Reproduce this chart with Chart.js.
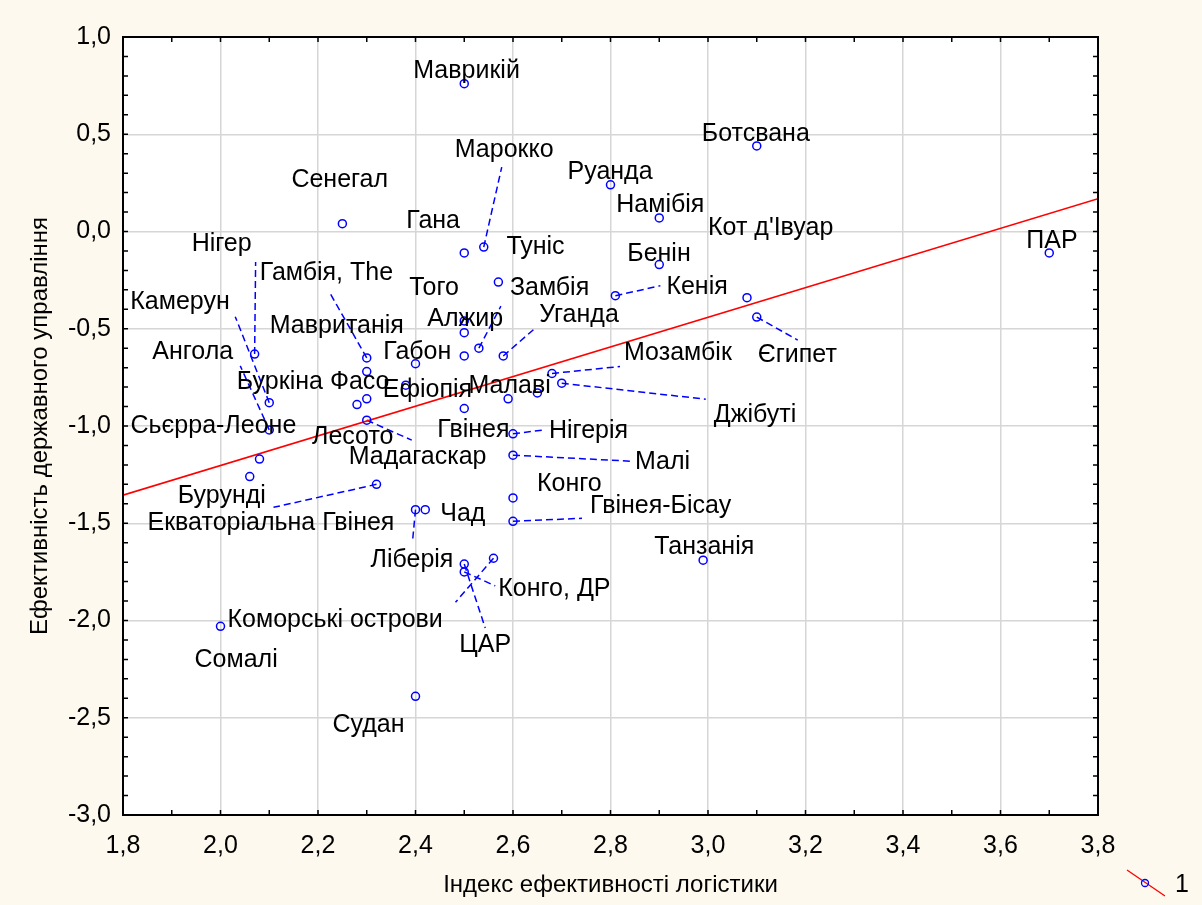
<!DOCTYPE html>
<html>
<head>
<meta charset="utf-8">
<script src="https://cdn.jsdelivr.net/npm/chart.js@4.4.1/dist/chart.umd.min.js"></script>
<style>
body{margin:0;background:#fdf9ee}
canvas{display:block}
</style>
</head>
<body>
<canvas id="chart" width="1202" height="905"></canvas>
<script>
// countries, logistics performance index (x), government effectiveness (y)
const countries = ['Маврикій','Ботсвана','Руанда','Намібія','Сенегал','Гана','Марокко','Туніс','Бенін','Кенія',
  "Кот д'Івуар",'Єгипет','ПАР','Того','Алжир','Замбія','Габон','Уганда','','Ефіопія',
  'Мозамбік','Джібуті','Малаві','','Гвінея','Нігер','Камерун','Ангола','Гамбія, The','Мавританія',
  'Буркіна Фасо','Лесото','Мадагаскар','Сьєрра-Леоне','Бурунді','Екваторіальна Гвінея','Ліберія','Чад','Нігерія','Малі',
  'Конго','Гвінея-Бісау','Танзанія','ЦАР','Конго, ДР','Коморські острови','Сомалі','Судан']
const logistics = [2.50,3.10,2.80,2.90,2.25,2.50,2.54,2.57,2.90,2.81,
  3.08,3.10,3.70,2.50,2.50,2.53,2.50,2.58,2.40,2.38,
  2.68,2.70,2.65,2.59,2.50,2.07,2.10,2.10,2.30,2.30,
  2.30,2.28,2.30,2.08,2.06,2.32,2.40,2.42,2.60,2.60,
  2.60,2.60,2.99,2.50,2.50,2.56,2.00,2.40]
const governance = [0.76,0.44,0.24,0.07,0.04,-0.11,-0.08,-0.26,-0.17,-0.33,
  -0.34,-0.44,-0.11,-0.46,-0.52,-0.60,-0.64,-0.64,-0.68,-0.79,
  -0.73,-0.78,-0.83,-0.86,-0.91,-0.63,-0.88,-1.02,-0.65,-0.72,
  -0.86,-0.89,-0.97,-1.17,-1.26,-1.30,-1.43,-1.43,-1.04,-1.15,
  -1.37,-1.49,-1.69,-1.71,-1.75,-1.68,-2.03,-2.39]

// fitted line y = a + b*x
const fitA = -2.727
const fitB = 0.762
const xRange = [1.8, 3.8]

// label placement relative to the point, in pixels [dx, dy of text baseline-left]
const labelOffsets = [[-51,-6],[-55,-5],[-43,-6],[-43,-6],[-51,-37],[-58,-25],[-29,-90],[8,-28],[-32,-4],[51,-2],
  [-39,-63],[1,45],[-23,-5],[-55,-26],[-37,-7],[31,-53],[-81,3],[36,-34],null,[-23,12],
  [72,-13],[152,39],[-69,0],null,[-27,29],[-63,-103],[-139,-94],[-117,-71],[-107,-78],[-97,-39],
  [-130,-10],[-45,39],[-18,44],[-129,-26],[-72,26],[-229,46],[-45,57],[15,11],[36,4],[122,14],
  [24,-7],[77,-8],[-49,-6],[-5,88],[34,24],[-266,69],[-26,41],[-83,36]]
// dashed leader end relative to the point
const leaders = {6:[18,-80],9:[45,-10],11:[41,23],15:[22,-42],17:[31,-27],20:[68,-7],21:[144,16],
  25:[1,-92],26:[-34,-86],27:[-29,-64],28:[-38,-67],32:[45,20],35:[-103,23],36:[-3,32],
  38:[32,-4],39:[117,6],41:[69,-3],43:[21,64],44:[31,14],45:[-38,44]}

const FONT = '"Liberation Sans", Arial, sans-serif'
const points = logistics.map((x,i) => ({x:x, y:governance[i]}))
const fitLine = xRange.map(x => ({x:x, y:fitA + fitB*x}))
const fmt = v => v.toFixed(1).replace('.', ',')

const background = {
  id:'background',
  beforeDraw(chart){
    const {ctx, chartArea:a} = chart
    ctx.save()
    ctx.fillStyle = '#fdf9ee'
    ctx.fillRect(0,0,chart.width,chart.height)
    ctx.fillStyle = '#ffffff'
    ctx.fillRect(a.left,a.top,a.right-a.left,a.bottom-a.top)
    ctx.restore()
  }
}

const labels = {
  id:'labels',
  beforeDatasetsDraw(chart){
    const ctx = chart.ctx
    const meta = chart.getDatasetMeta(0)
    ctx.save()
    ctx.strokeStyle = '#0000ff'
    ctx.lineWidth = 1.5
    ctx.setLineDash([7,4])
    for (const k in leaders){
      const p = meta.data[k]
      ctx.beginPath()
      ctx.moveTo(p.x, p.y)
      ctx.lineTo(p.x + leaders[k][0], p.y + leaders[k][1])
      ctx.stroke()
    }
    ctx.restore()
  },
  afterDatasetsDraw(chart){
    const ctx = chart.ctx
    const meta = chart.getDatasetMeta(0)
    ctx.save()
    ctx.font = '25px ' + FONT
    ctx.fillStyle = '#000'
    ctx.textAlign = 'left'
    ctx.textBaseline = 'alphabetic'
    countries.forEach((name,i) => {
      const off = labelOffsets[i]
      if (!off || !name) return
      const p = meta.data[i]
      ctx.fillText(name, p.x + off[0], p.y + off[1])
    })
    ctx.restore()
  }
}

const frame = {
  id:'frame',
  afterDraw(chart){
    const {ctx, chartArea:a, scales} = chart
    ctx.save()
    ctx.strokeStyle = '#000'
    ctx.lineWidth = 1.5
    ctx.beginPath()
    scales.x.ticks.forEach(t => {
      const px = scales.x.getPixelForValue(t.value)
      ctx.moveTo(px, a.bottom); ctx.lineTo(px, a.bottom-5)
      ctx.moveTo(px, a.top); ctx.lineTo(px, a.top+5)
    })
    scales.y.ticks.forEach(t => {
      const py = scales.y.getPixelForValue(t.value)
      ctx.moveTo(a.left, py); ctx.lineTo(a.left+5, py)
      ctx.moveTo(a.right, py); ctx.lineTo(a.right-5, py)
    })
    ctx.stroke()
    ctx.lineWidth = 2
    ctx.strokeRect(a.left, a.top, a.right-a.left, a.bottom-a.top)
    // legend key
    ctx.strokeStyle = '#ff0000'
    ctx.lineWidth = 1.3
    ctx.beginPath()
    ctx.moveTo(a.right+29, a.bottom+55); ctx.lineTo(a.right+67, a.bottom+81)
    ctx.stroke()
    ctx.strokeStyle = '#0000ff'
    ctx.beginPath()
    ctx.arc(a.right+47, a.bottom+68, 3.5, 0, Math.PI*2)
    ctx.stroke()
    ctx.fillStyle = '#000'
    ctx.font = '25px ' + FONT
    ctx.fillText('1', a.right+77, a.bottom+77)
    ctx.restore()
  }
}

new Chart(document.getElementById('chart'), {
  data:{
    datasets:[
      {
        type:'scatter',
        label:'1',
        data:points,
        pointStyle:'circle',
        pointRadius:4,
        borderWidth:1.5,
        borderColor:'#0000ff',
        backgroundColor:'rgba(0,0,0,0)'
      },
      {
        type:'line',
        data:fitLine,
        borderColor:'#ff0000',
        borderWidth:1.6,
        pointRadius:0
      }
    ]
  },
  options:{
    responsive:false,
    animation:false,
    events:[],
    layout:{padding:{top:37, right:104, left:0, bottom:0}},
    plugins:{legend:{display:false}, tooltip:{enabled:false}},
    scales:{
      x:{
        type:'linear', min:1.8, max:3.8,
        afterFit(s){ s.height = 90 },
        ticks:{
          stepSize:0.1, autoSkip:false, maxRotation:0, padding:16,
          color:'#000', font:{family:FONT, size:25},
          callback:v => Math.round(v*10) % 2 === 0 ? fmt(v) : ''
        },
        grid:{
          drawTicks:false, lineWidth:1.5,
          color:c => Math.round(c.tick.value*10) % 2 === 0 ? '#d6d6d6' : 'rgba(0,0,0,0)'
        },
        border:{display:false},
        title:{display:true, text:'Індекс ефективності логістики', color:'#000',
          font:{family:FONT, size:24}, padding:{top:0, bottom:5}}
      },
      y:{
        type:'linear', min:-3, max:1,
        afterFit(s){ s.width = 123 },
        ticks:{
          stepSize:0.1, autoSkip:false, padding:12,
          color:'#000', font:{family:FONT, size:25},
          callback:v => Math.round(v*10) % 5 === 0 ? fmt(v) : ''
        },
        grid:{
          drawTicks:false, lineWidth:1.5,
          color:c => Math.round(c.tick.value*10) % 5 === 0 ? '#d6d6d6' : 'rgba(0,0,0,0)'
        },
        border:{display:false},
        title:{display:true, text:'Ефективність державного управління', color:'#000',
          font:{family:FONT, size:24}, padding:{top:26, bottom:0}}
      }
    }
  },
  plugins:[background, labels, frame]
})
</script>
</body>
</html>
